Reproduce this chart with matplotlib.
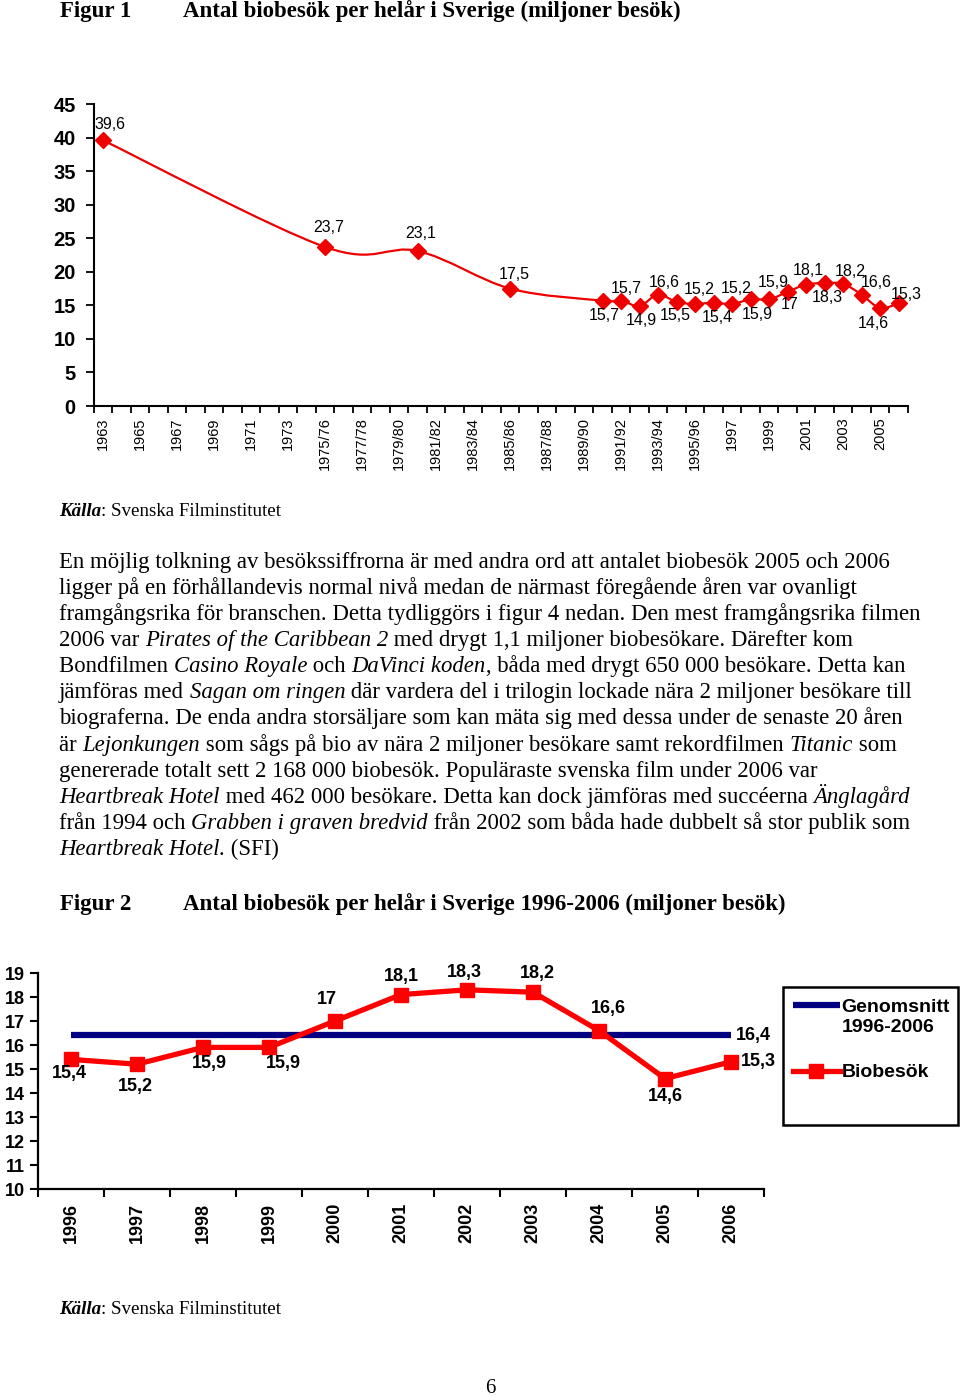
#!/usr/bin/env python3
import matplotlib
matplotlib.use('Agg')
import numpy as np
import matplotlib.pyplot as plt
from matplotlib.path import Path
from matplotlib.patches import PathPatch, Rectangle

SANS = 'Liberation Sans'
SERIF = 'Liberation Serif'

# ---- data, figur 1 ----
years1 = (['1963', '1964', '1965', '1966', '1967', '1968', '1969', '1970',
           '1971', '1972', '1973', '1974'] +
          ['1975/76', '1976/77', '1977/78', '1978/79', '1979/80', '1980/81',
           '1981/82', '1982/83', '1983/84', '1984/85', '1985/86', '1986/87',
           '1987/88', '1988/89', '1989/90', '1990/91', '1991/92', '1992/93',
           '1993/94', '1994/95', '1995/96'] +
          ['1996', '1997', '1998', '1999', '2000', '2001', '2002', '2003',
           '2004', '2005', '2006'])
visits1 = [39.6] + [None] * 11 + [23.7] + [None] * 4 + [23.1] + [None] * 4 + \
          [17.5] + [None] * 4 + \
          [15.7, 15.7, 14.9, 16.6, 15.5, 15.2,
           15.4, 15.2, 15.9, 15.9, 17.0, 18.1, 18.3, 18.2, 16.6, 14.6, 15.3]

# ---- data, figur 2 ----
years2 = ['1996', '1997', '1998', '1999', '2000', '2001', '2002', '2003',
          '2004', '2005', '2006']
visits2 = [15.4, 15.2, 15.9, 15.9, 17.0, 18.1, 18.3, 18.2, 16.6, 14.6, 15.3]
average2 = 16.4


def fmt(v):
    s = ('%.1f' % v).replace('.', ',')
    return s[:-2] if s.endswith(',0') else s


W, H = 960, 1396
fig = plt.figure(figsize=(W / 100, H / 100), dpi=100)
fig.patch.set_facecolor('white')
renderer = fig.canvas.get_renderer()


def fx(px):
    return px / W


def fy(py):
    return 1 - py / H


def text_width(txt, **kw):
    t1 = fig.text(0, 0, '|' + txt + '|', **kw)
    t2 = fig.text(0, 0, '||', **kw)
    w = t1.get_window_extent(renderer).width - t2.get_window_extent(renderer).width
    t1.remove()
    t2.remove()
    return w


def line_of_segments(x_px, base_px, segs, size):
    for txt, style, weight in segs:
        kw = dict(fontsize=size, family=SERIF, style=style, weight=weight)
        fig.text(fx(x_px), fy(base_px), txt, va='baseline', ha='left', **kw)
        x_px += text_width(txt, **kw)


# ---- titles ----
for base, title in [(17, 'Antal biobesök per helår i Sverige (miljoner besök)'),
                    (910, 'Antal biobesök per helår i Sverige 1996-2006 (miljoner besök)')]:
    fig.text(fx(60), fy(base), 'Figur %d' % (1 if base < 500 else 2), family=SERIF,
             weight='bold', fontsize=16.5, va='baseline')
    fig.text(fx(183), fy(base), title, family=SERIF, weight='bold', fontsize=16.5, va='baseline')

# ---- figur 1 ----
ax1 = fig.add_axes([fx(93.75), fy(406), fx(814), 302 / H])
xs = np.array([i for i, v in enumerate(visits1) if v is not None], dtype=float)
ys = np.array([v for v in visits1 if v is not None], dtype=float)

# smoothed line (bezier through the points, like the spreadsheet's smoothing)
verts = [(xs[0], ys[0])]
codes = [Path.MOVETO]
for k in range(len(xs) - 1):
    p0 = np.array([xs[max(k - 1, 0)], ys[max(k - 1, 0)]])
    p1 = np.array([xs[k], ys[k]])
    p2 = np.array([xs[k + 1], ys[k + 1]])
    p3 = np.array([xs[min(k + 2, len(xs) - 1)], ys[min(k + 2, len(xs) - 1)]])
    c1 = p1 + (p2 - p0) / 6.0
    c2 = p2 - (p3 - p1) / 6.0
    verts += [tuple(c1), tuple(c2), tuple(p2)]
    codes += [Path.CURVE4] * 3
ax1.add_patch(PathPatch(Path(verts, codes), fill=False, edgecolor='#ee0000', lw=1.6))
ax1.plot(xs, ys, linestyle='none', marker='D', markersize=8.5, color='#ee0000')

off1 = [(7, 16), (4, 19), (3, 17), (4, 14), (2, -15), (5, 12), (2, -14), (6, 12),
        (-1, -14), (4, 14), (4, -15), (4, 15), (7, -15), (4, 17), (2, -13), (2, 14),
        (3, -14), (7, 12), (15, 12), (-7, -15), (8, 9)]
for (x, y), (dx, dy) in zip(zip(xs, ys), off1):
    ax1.annotate(fmt(y), (x, y), xytext=(dx, dy), textcoords='offset pixels',
                 ha='center', va='center', fontsize=11.5, family=SANS)

ax1.set_xlim(-0.5, len(years1) - 0.5)
ax1.set_ylim(0, 45)
ax1.set_yticks(np.arange(0, 46, 5))
ax1.set_yticklabels([str(v) for v in range(0, 46, 5)], family=SANS, weight='bold', fontsize=14.5)
ax1.set_xticks(np.arange(0, len(years1), 2))
ax1.set_xticklabels(years1[::2], rotation=90, family=SANS, fontsize=10.5)
ax1.set_xticks(np.arange(-0.5, len(years1), 1), minor=True)
ax1.tick_params(axis='x', which='major', length=0, pad=8)
ax1.tick_params(axis='x', which='minor', length=5, width=1.3, direction='out')
ax1.tick_params(axis='y', length=6, width=1.3, pad=7)
for s in ['top', 'right']:
    ax1.spines[s].set_visible(False)
for s in ['left', 'bottom']:
    ax1.spines[s].set_linewidth(1.5)

# ---- source lines ----
for base in [515.7, 1314]:
    line_of_segments(59, base, [('Källa', 'italic', 'bold'),
                                (': Svenska Filminstitutet', 'normal', 'normal')], 13.7)

# ---- paragraph ----
N, I = 'normal', 'italic'
para = [
    [('En möjlig tolkning av besökssiffrorna är med andra ord att antalet biobesök 2005 och 2006', N)],
    [('ligger på en förhållandevis normal nivå medan de närmast föregående åren var ovanligt', N)],
    [('framgångsrika för branschen. Detta tydliggörs i figur 4 nedan. Den mest framgångsrika filmen', N)],
    [('2006 var ', N), ('Pirates of the Caribbean 2', I),
     (' med drygt 1,1 miljoner biobesökare. Därefter kom', N)],
    [('Bondfilmen ', N), ('Casino Royale', I), (' och ', N), ('DaVinci koden', I),
     (', båda med drygt 650 000 besökare. Detta kan', N)],
    [('jämföras med ', N), ('Sagan om ringen', I),
     (' där vardera del i trilogin lockade nära 2 miljoner besökare till', N)],
    [('biograferna. De enda andra storsäljare som kan mäta sig med dessa under de senaste 20 åren', N)],
    [('är ', N), ('Lejonkungen', I),
     (' som sågs på bio av nära 2 miljoner besökare samt rekordfilmen ', N), ('Titanic', I), (' som', N)],
    [('genererade totalt sett 2 168 000 biobesök. Populäraste svenska film under 2006 var', N)],
    [('Heartbreak Hotel', I), (' med 462 000 besökare. Detta kan dock jämföras med succéerna ', N),
     ('Änglagård', I)],
    [('från 1994 och ', N), ('Grabben i graven bredvid', I),
     (' från 2002 som båda hade dubbelt så stor publik som', N)],
    [('Heartbreak Hotel.', I), (' (SFI)', N)],
]
for i, segs in enumerate(para):
    line_of_segments(59, 567.7 + 26.13 * i, [(t, s, 'normal') for t, s in segs], 16.4)

# ---- figur 2 ----
ax2 = fig.add_axes([fx(38), fy(1189), fx(726), 216 / H])
x2 = np.arange(len(years2))
ax2.plot([x2[0], x2[-1]], [average2, average2], color='#000080', lw=4.5, solid_capstyle='butt',
         label='Genomsnitt\n1996-2006', zorder=2)
ax2.plot(x2, visits2, color='#ff0000', lw=3.8, marker='s', markersize=10.5,
         label='Biobesök', zorder=3)

off2 = [(-2, -14), (-2, -22), (6, -16), (14, -16), (-8, 21), (0, 18), (-3, 17),
        (4, 19), (9, 22), (0, -18), (27, 0)]
for x, y, (dx, dy) in zip(x2, visits2, off2):
    ax2.annotate(fmt(y), (x, y), xytext=(dx, dy), textcoords='offset pixels',
                 ha='center', va='center', fontsize=13, family=SANS, weight='bold')
ax2.annotate(fmt(average2), (x2[-1], average2), xytext=(22, 0), textcoords='offset pixels',
             ha='center', va='center', fontsize=13, family=SANS, weight='bold')

ax2.set_xlim(-0.5, len(years2) - 0.5)
ax2.set_ylim(10, 19)
ax2.set_yticks(np.arange(10, 20))
ax2.set_yticklabels([str(v) for v in range(10, 20)], family=SANS, weight='bold', fontsize=13)
ax2.set_xticks(x2)
ax2.set_xticklabels(years2, rotation=90, family=SANS, weight='bold', fontsize=13)
ax2.set_xticks(np.arange(-0.5, len(years2), 1), minor=True)
ax2.tick_params(axis='x', which='major', length=0, pad=10)
ax2.tick_params(axis='x', which='minor', length=6, width=1.5, direction='out')
ax2.tick_params(axis='y', length=6, width=1.5)
for s in ['top', 'right']:
    ax2.spines[s].set_visible(False)
for s in ['left', 'bottom']:
    ax2.spines[s].set_linewidth(1.6)

leg = ax2.legend(loc='upper left', bbox_to_anchor=(fx(793), fy(999)),
                 bbox_transform=fig.transFigure, frameon=False,
                 handlelength=2.4, handletextpad=0.1,
                 labelspacing=1.45, borderpad=0, borderaxespad=0,
                 prop=dict(family=SANS, weight='bold', size=14))
# put the average handle next to the first line of its label
avg_handle = leg.get_lines()[0]
avg_handle.set_ydata(np.asarray(avg_handle.get_ydata()) + 8.5)
fig.add_artist(Rectangle((fx(783), fy(1125)), fx(958 - 783), 138 / H,
                         transform=fig.transFigure, fill=False, edgecolor='black', lw=1.8))

# page number
fig.text(fx(490), fy(1393), '6', family=SERIF, fontsize=15, ha='center', va='baseline')

fig.savefig('out.png', dpi=100, facecolor='white')
